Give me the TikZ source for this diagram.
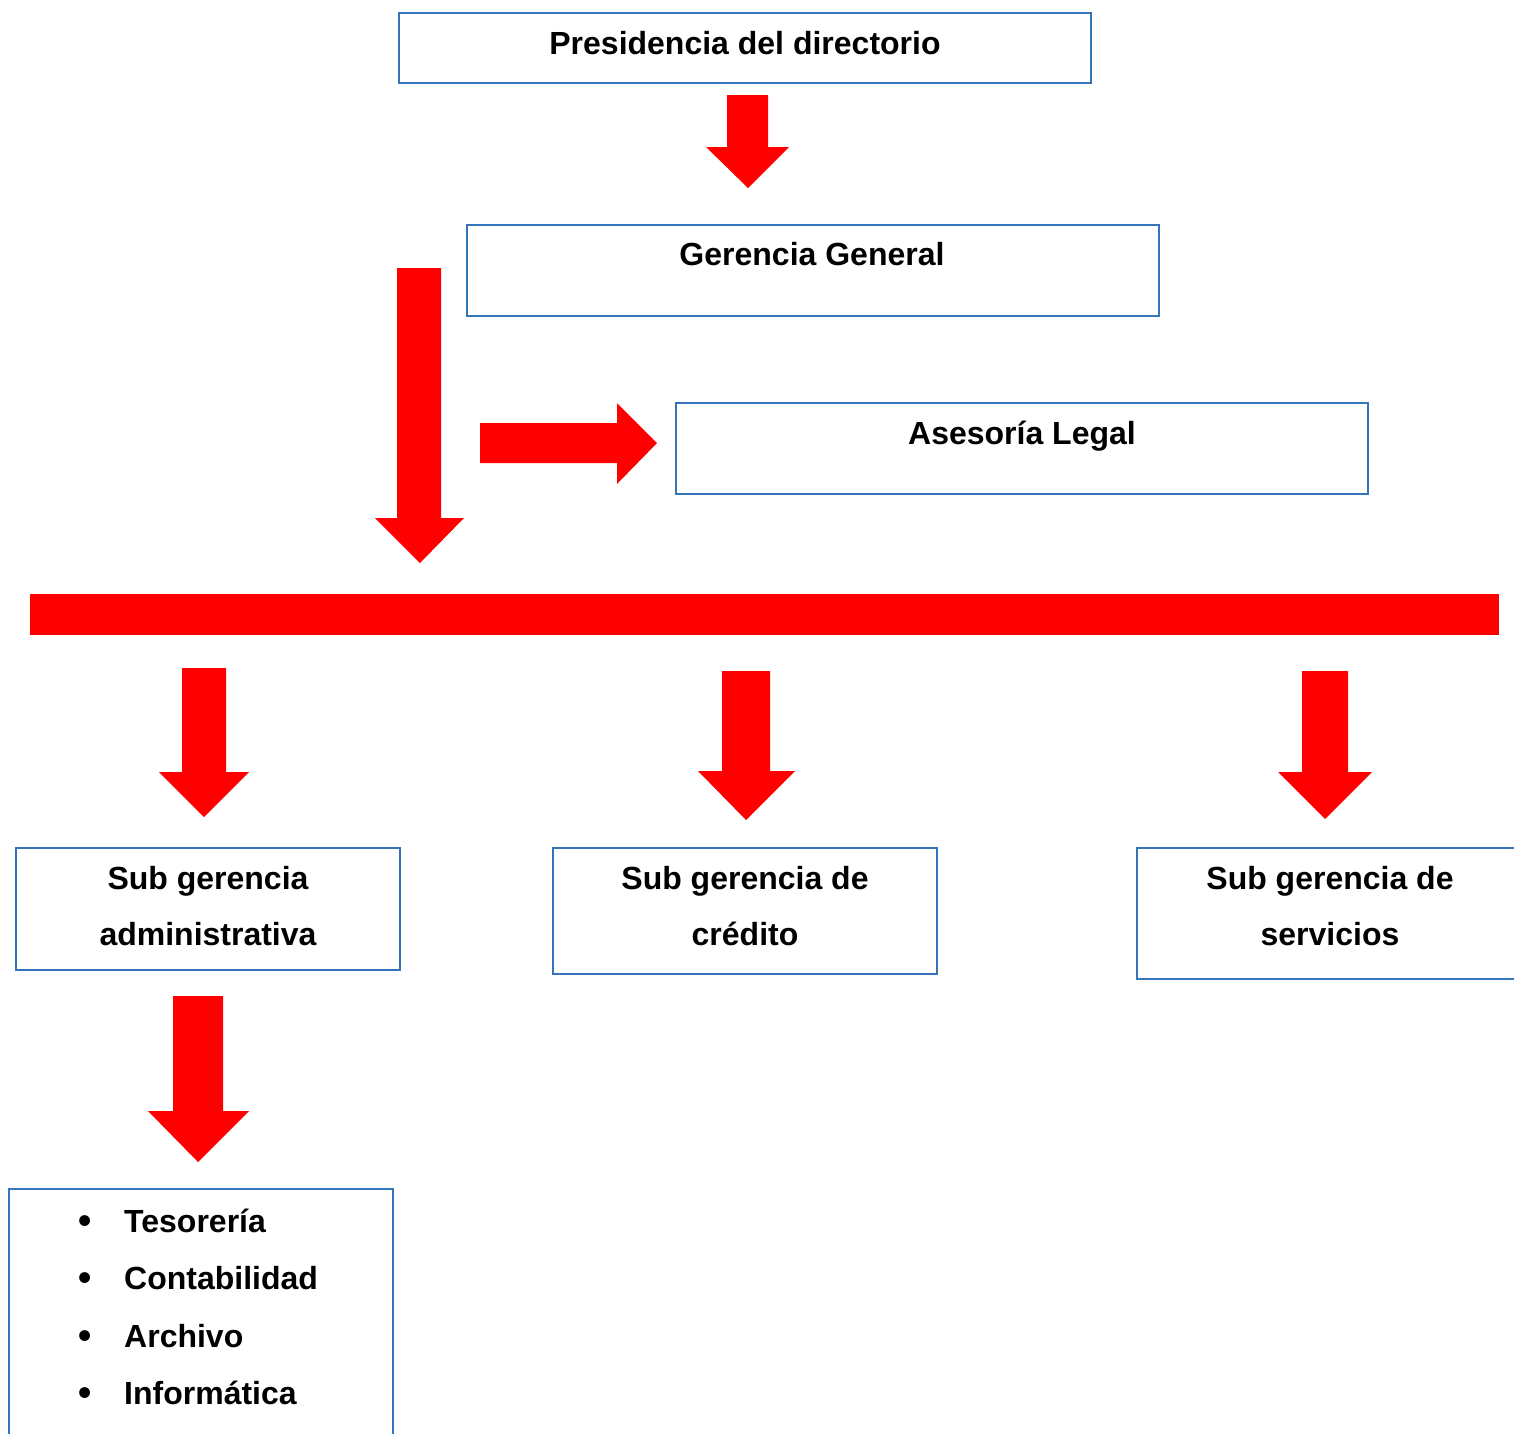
\documentclass[tikz,border=0pt]{standalone}
\usepackage{fontspec}
\usepackage{graphicx}
\setmainfont{Liberation Sans}
\definecolor{boxblue}{RGB}{52,117,186}
\newcommand{\bigdot}{\makebox[46pt][l]{\raisebox{-0.8pt}{\scalebox{1.18}{\textbullet}}}}

\begin{document}
\begin{tikzpicture}[x=1pt,y=-1pt,
    box/.style={draw=boxblue,line width=2.5pt},
    blk/.style={fill=red,draw=none},
    lbl/.style={inner sep=0pt,align=center,font=\fontsize{32}{56}\selectfont\bfseries}]
    \useasboundingbox (0,0) rectangle (1514,1433);
    \clip (0,0) rectangle (1514,1433);

    % boxes
    \draw[box] (399,13) rectangle (1091,83);
    \draw[box] (467,225) rectangle (1159,316);
    \draw[box] (676,403) rectangle (1368,494);
    \draw[box] (16,848) rectangle (400,970);
    \draw[box] (553,848) rectangle (937,974);
    \draw[box] (1137,848) rectangle (1530,979);
    \draw[box] (9,1189) rectangle (393,1450);

    % texts
    \node[lbl] (pres) at (745,43) {Presidencia del directorio};
    \node[lbl] (gerencia) at (812,254) {Gerencia General};
    \node[lbl] (asesoria) at (1022,436) {Asesoría Legal};
    \node[lbl] (subadm) at (208,906) {Sub gerencia\\administrativa};
    \node[lbl] (subcred) at (745,906) {Sub gerencia de\\crédito};
    \node[lbl] (subserv) at (1330,906) {Sub gerencia de\\servicios};
    \node[lbl,align=left,anchor=north west,font=\fontsize{32}{57.3}\selectfont\bfseries] (lista) at (78,1209)
        {\bigdot Tesorería\\
         \bigdot Contabilidad\\
         \bigdot Archivo\\
         \bigdot Informática};

    % red arrows
    \fill[blk] (727,95) -- (768,95) -- (768,147) -- (789,147) -- (748,188) -- (706,147) -- (727,147) -- cycle;
    \fill[blk] (397,268) -- (441,268) -- (441,518) -- (464,518) -- (420,563) -- (375,518) -- (397,518) -- cycle;
    \fill[blk] (480,423) -- (617,423) -- (617,403) -- (657,443) -- (617,484) -- (617,463) -- (480,463) -- cycle;
    \fill[blk] (30,594) rectangle (1499,635);

    \fill[blk] (182,668) -- (226,668) -- (226,772) -- (249,772) -- (204,817) -- (159,772) -- (182,772) -- cycle;
    \fill[blk] (722,671) -- (770,671) -- (770,771) -- (795,771) -- (746,820) -- (698,771) -- (722,771) -- cycle;
    \fill[blk] (1302,671) -- (1348,671) -- (1348,772) -- (1372,772) -- (1325,819) -- (1278,772) -- (1302,772) -- cycle;
    \fill[blk] (173,996) -- (223,996) -- (223,1111) -- (249,1111) -- (198,1162) -- (148,1111) -- (173,1111) -- cycle;
\end{tikzpicture}
\end{document}
